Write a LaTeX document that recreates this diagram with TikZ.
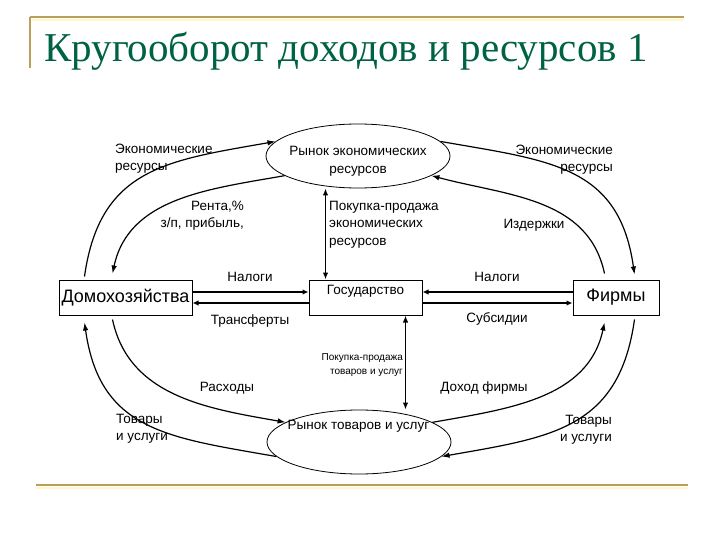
\documentclass[tikz,border=0pt]{standalone}
\usepackage{fontspec}
\setmainfont{Liberation Sans}
\newfontfamily\titlefont{Liberation Serif}
\usetikzlibrary{arrows.meta,shapes.geometric}
\definecolor{rulegold}{RGB}{185,160,90}
\definecolor{rulepale}{RGB}{255,247,200}
\definecolor{titlegreen}{RGB}{0,98,68}
\tikzset{
  lbl/.style={font=\fontsize{13.5}{17}\selectfont, inner sep=0pt},
  sector/.style={draw, line width=1pt, inner sep=0pt, font=\fontsize{18}{18}\selectfont},
  market/.style={draw, ellipse, line width=0.8pt, minimum width=184pt, minimum height=64pt, inner sep=0pt},
  flow/.style={line width=1.2pt, -{Latex[length=8pt,width=5.5pt]}},
  money/.style={line width=2pt, -{Latex[length=6pt,width=5.5pt]}},
  trade/.style={line width=1.5pt, {Latex[length=7pt,width=5.5pt]}-{Latex[length=7pt,width=5.5pt]}},
}
\begin{document}
\begin{tikzpicture}[x=1pt, y=1pt]
	\useasboundingbox[fill=white] (0,0) rectangle (720,-540);
	% title and rules
	\draw[rulepale, line width=2pt] (32,-20) -- (684,-20);
	\draw[rulegold, line width=2pt] (30,-17) -- (684,-17);
	\draw[rulegold, line width=2pt] (30,-17) -- (30,-68);
	\draw[rulepale, line width=2pt] (36,-488) -- (688,-488);
	\draw[rulegold, line width=2pt] (36,-485) -- (688,-485);
	\node[anchor=base west, inner sep=0pt, text=titlegreen, font=\titlefont\fontsize{41}{41}\selectfont] (title) at (44,-62) {Кругооборот доходов и ресурсов 1};
	
	% sectors
	\node[sector, minimum width=133pt, minimum height=35pt] (hh) at (125.5,-297.5) {Домохозяйства};
	\node[sector, minimum width=86pt, minimum height=35pt] (firms) at (616,-297.5) {Фирмы};
	\node[sector, minimum width=113pt, inner ysep=4pt, text height=10pt, text depth=17pt, font=\fontsize{13.5}{13.5}\selectfont] (gov) at (365.5,-297.5) {Государство};
	
	% markets
	\node[market] (eco) at (358,-156) {};
	\node[lbl, align=center, font=\fontsize{13.5}{18}\selectfont] (ecotext) at (358,-161) {Рынок экономических\\ресурсов};
	\node[market] (goods) at (359,-442) {};
	\node[lbl] (goodstext) at (358.5,-426) {Рынок товаров и услуг};
	
	% labels
	\node[lbl, anchor=west, align=left] (ecoL) at (115,-158.5) {Экономические\\ресурсы};
	\node[lbl, anchor=east, align=right] (rent) at (244,-216) {Рента,\%\\з/п, прибыль,};
	\node[lbl, anchor=west, align=left, font=\fontsize{13.5}{17.5}\selectfont] (buyres) at (329,-224.5) {Покупка-продажа\\экономических\\ресурсов};
	\node[lbl, anchor=east, align=right] (ecoR) at (613,-159.5) {Экономические\\ресурсы};
	\node[lbl] (costs) at (534,-225) {Издержки};
	\node[lbl] (taxL) at (250,-277) {Налоги};
	\node[lbl] (taxR) at (497,-277) {Налоги};
	\node[lbl] (transf) at (250,-321) {Трансферты};
	\node[lbl] (subs) at (497,-319) {Субсидии};
	\node[lbl, anchor=east, align=right, font=\fontsize{10}{14}\selectfont] (buygoods) at (403,-365) {Покупка-продажа\\товаров и услуг};
	\node[lbl] (spend) at (227,-388) {Расходы};
	\node[lbl] (income) at (484,-388) {Доход фирмы};
	\node[lbl, anchor=west, align=left] (goodsL) at (116,-429) {Товары\\и услуги};
	\node[lbl, anchor=east, align=right] (goodsR) at (612,-429.5) {Товары\\и услуги};
	
	% government links
	\coordinate (g1) at ([xshift=17pt]gov.north west);
	\coordinate (g2) at ([xshift=97pt]gov.south west);
	\draw[trade] (eco.south -| g1) -- (g1);
	\draw[trade] (g2) -- (goods.north -| g2);
	\draw[money] ([yshift=5.5pt]hh.east) -- ([yshift=5.5pt]gov.west);
	\draw[money] ([yshift=-5.5pt]gov.west) -- ([yshift=-5.5pt]hh.east);
	\draw[money] ([yshift=5.5pt]firms.west) -- ([yshift=5.5pt]gov.east);
	\draw[money] ([yshift=-5.5pt]gov.east) -- ([yshift=-5.5pt]firms.west);
	
	% circular flows
	\draw[flow] ([xshift=26pt,yshift=3pt]hh.north west) to[out=82,in=190,looseness=1.2] (eco.170);
	\draw[flow] (eco.195) to[out=190,in=78] ([xshift=54pt,yshift=6pt]hh.north west);
	\draw[flow] (eco.10) to[out=350,in=98,looseness=1.2] ([xshift=62pt,yshift=5pt]firms.north west);
	\draw[flow] ([xshift=32pt,yshift=6pt]firms.north west) to[out=102,in=345] (eco.345);
	\draw[flow] (goods.190) to[out=170,in=278,looseness=1.2] ([xshift=26pt,yshift=-7pt]hh.south west);
	\draw[flow] ([xshift=54pt,yshift=-4pt]hh.south west) to[out=282,in=170] (goods.165);
	\draw[flow] (goods.15) to[out=10,in=258] ([xshift=32pt,yshift=-7pt]firms.south west);
	\draw[flow] ([xshift=62pt,yshift=-4pt]firms.south west) to[out=262,in=10,looseness=1.2] (goods.350);
\end{tikzpicture}
\end{document}
